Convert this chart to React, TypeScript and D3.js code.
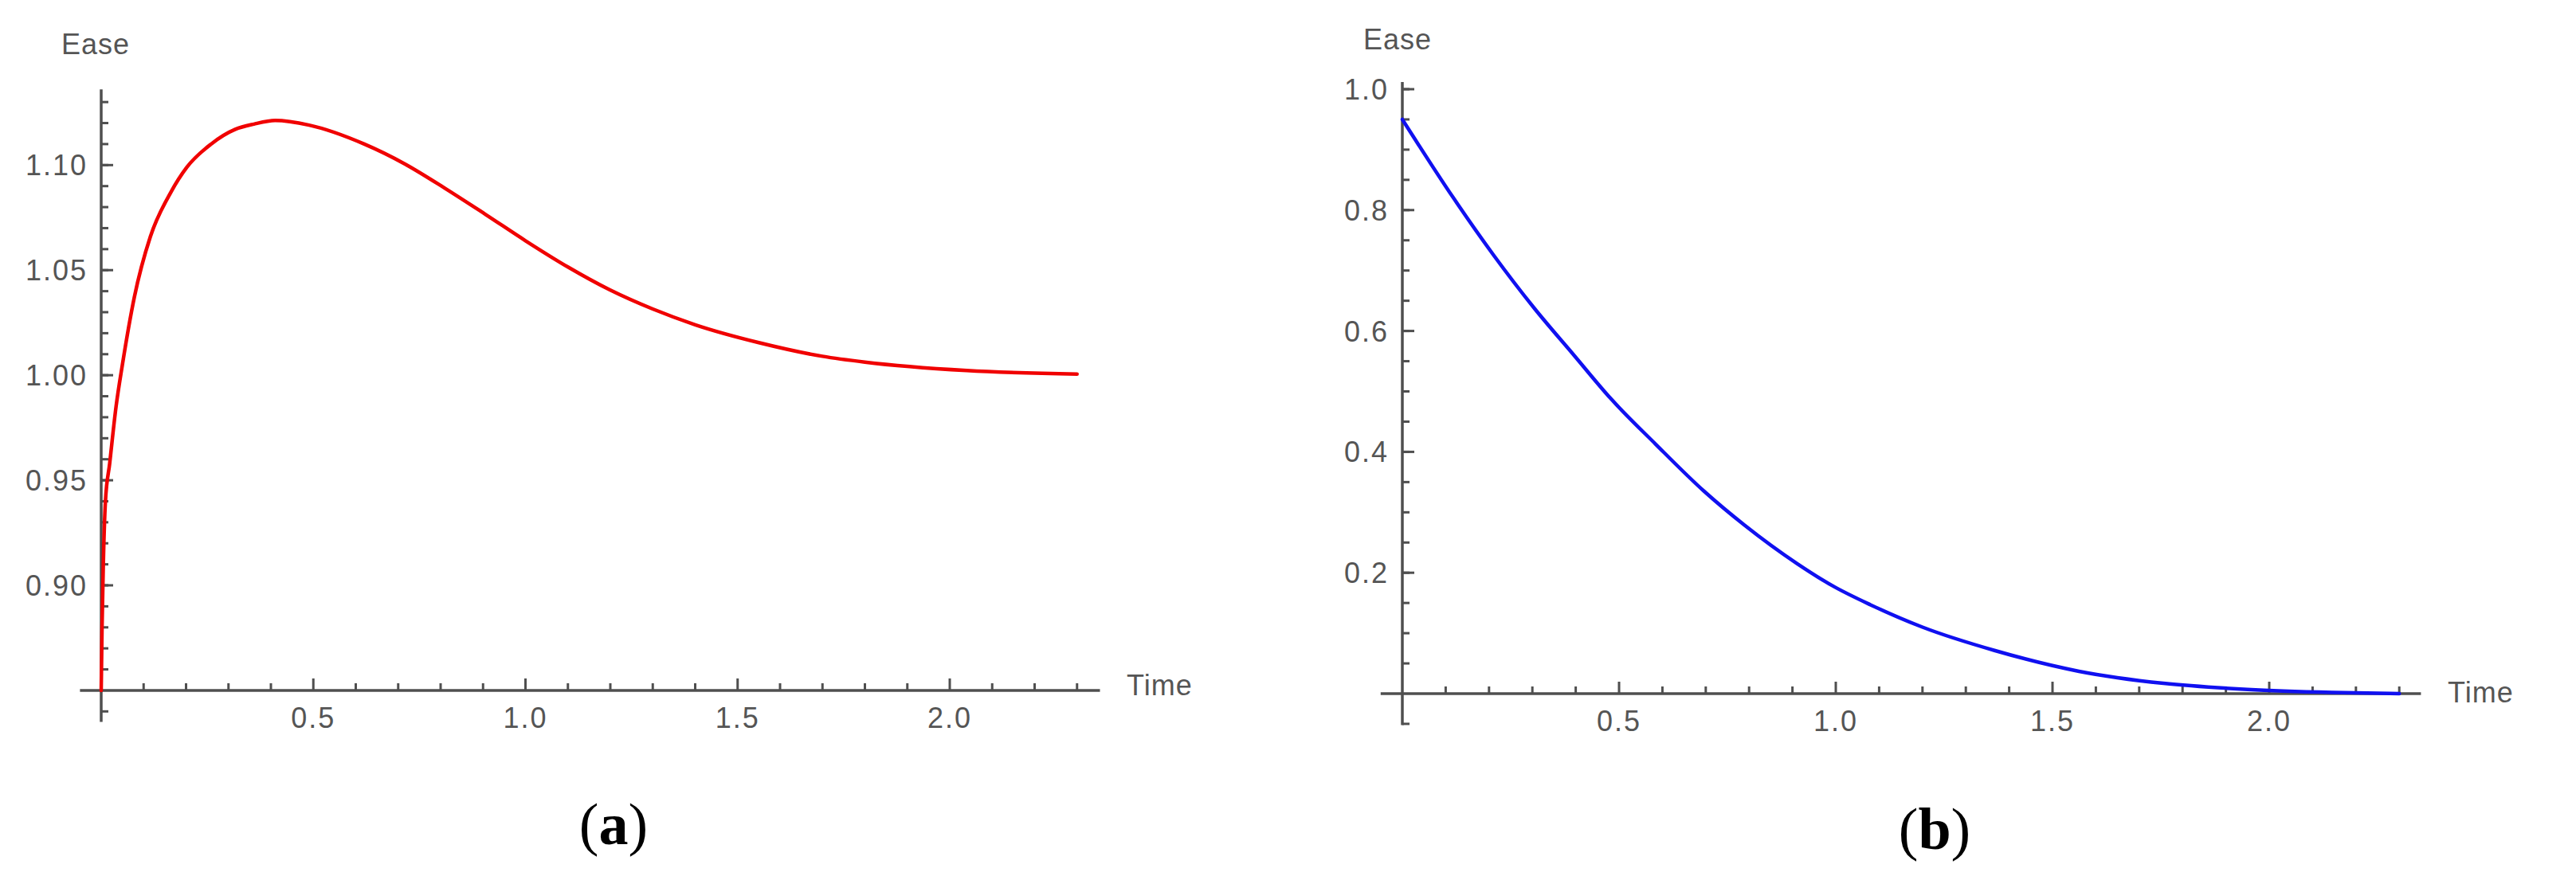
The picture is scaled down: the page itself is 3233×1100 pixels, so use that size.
import React from "react";
import * as d3 from "d3";

// ---- Data ----
const timeA = [0, 0.002, 0.005, 0.01, 0.02, 0.035, 0.05, 0.078, 0.116, 0.164, 0.202, 0.259, 0.316, 0.36, 0.41, 0.49, 0.62, 0.716, 0.81, 0.906, 1.0, 1.1, 1.2, 1.3, 1.4, 1.55, 1.7, 1.8, 2.04, 2.3];
const easeA = [0.85, 0.88, 0.91, 0.94, 0.958, 0.985, 1.005, 1.037, 1.066, 1.087, 1.099, 1.11, 1.117, 1.1195, 1.1212, 1.119, 1.11, 1.1005, 1.089, 1.0765, 1.064, 1.0515, 1.0405, 1.0315, 1.024, 1.0155, 1.009, 1.0062, 1.0022, 1.0005];

const timeB = [0, 0.117, 0.21, 0.304, 0.397, 0.481, 0.584, 0.696, 0.789, 0.911, 0.996, 1.08, 1.2, 1.366, 1.561, 1.756, 1.95, 2.145, 2.3];
const easeB = [0.95, 0.821, 0.726, 0.638, 0.559, 0.488, 0.413, 0.335, 0.279, 0.215, 0.177, 0.147, 0.11, 0.0715, 0.037, 0.017, 0.007, 0.002, 0.0];

const xMajorTicks = [0.5, 1.0, 1.5, 2.0];
const yMajorTicksA = [0.9, 0.95, 1.0, 1.05, 1.1];
const yMajorTicksB = [0.2, 0.4, 0.6, 0.8, 1.0];

const xLabel = "Time";
const yLabel = "Ease";
const panelLetters = ["a", "b"];

const AXIS = "#4f4f4f";
const TXT = "#555555";
const FONT = "'Liberation Sans', Arial, sans-serif";

type PanelProps = {
  t: number[];
  v: number[];
  color: string;
  x: d3.ScaleLinear<number, number>;
  y: d3.ScaleLinear<number, number>;
  xDom: [number, number];
  yDom: [number, number];
  yAxisAt: number;
  xMinor: number[];
  yMinor: number[];
  yMajor: number[];
  yFmt: (d: number) => string;
  easePos: [number, number];
  timePos: [number, number];
};

function Panel(p: PanelProps) {
  const { x, y } = p;
  const x0 = x(0);
  const yAx = y(p.yAxisAt);
  const line = d3
    .line<number>()
    .x((_, i) => x(p.t[i]))
    .y((d) => y(d))
    .curve(d3.curveMonotoneX);
  return (
    <g>
      {/* x axis */}
      <line x1={x(p.xDom[0])} x2={x(p.xDom[1])} y1={yAx} y2={yAx} stroke={AXIS} strokeWidth={3.5} />
      {p.xMinor.map((d) => (
        <line key={"xm" + d} x1={x(d)} x2={x(d)} y1={yAx} y2={yAx - 9} stroke={AXIS} strokeWidth={3} />
      ))}
      {xMajorTicks.map((d) => (
        <g key={"xM" + d}>
          <line x1={x(d)} x2={x(d)} y1={yAx} y2={yAx - 15} stroke={AXIS} strokeWidth={3} />
          <text x={x(d)} y={yAx + 47} textAnchor="middle" fontSize={36} fill={TXT} fontFamily={FONT} letterSpacing={2}>
            {d.toFixed(1)}
          </text>
        </g>
      ))}
      {/* y axis */}
      <line x1={x0} x2={x0} y1={y(p.yDom[0])} y2={y(p.yDom[1])} stroke={AXIS} strokeWidth={3.5} />
      {p.yMinor.map((d) => (
        <line key={"ym" + d} x1={x0} x2={x0 + 9} y1={y(d)} y2={y(d)} stroke={AXIS} strokeWidth={3} />
      ))}
      {p.yMajor.map((d) => (
        <g key={"yM" + d}>
          <line x1={x0} x2={x0 + 15} y1={y(d)} y2={y(d)} stroke={AXIS} strokeWidth={3} />
          <text x={x0 - 17} y={y(d)} dy="0.36em" textAnchor="end" fontSize={36} fill={TXT} fontFamily={FONT} letterSpacing={2}>
            {p.yFmt(d)}
          </text>
        </g>
      ))}
      <text x={p.easePos[0]} y={p.easePos[1]} fontSize={36} fill={TXT} fontFamily={FONT} letterSpacing={1}>
        {yLabel}
      </text>
      <text x={p.timePos[0]} y={p.timePos[1]} fontSize={36} fill={TXT} fontFamily={FONT} letterSpacing={1}>
        {xLabel}
      </text>
      <path d={line(p.v) || ""} fill="none" stroke={p.color} strokeWidth={4.5} strokeLinejoin="round" strokeLinecap="round" />
    </g>
  );
}

export default function App() {
  const W = 3233;
  const H = 1100;

  const xA = d3.scaleLinear().domain([0, 2]).range([127, 1192]);
  const yA = d3.scaleLinear().domain([0.9, 1.1]).range([735, 207.3]);
  const xB = d3.scaleLinear().domain([0, 2]).range([1760, 2848]);
  const yB = d3.scaleLinear().domain([0, 1]).range([871, 112]);

  const xMinor = d3.range(1, 24).map((i) => i / 10).filter((d) => !xMajorTicks.some((m) => Math.abs(m - d) < 1e-9));
  const yMinorA = d3.range(84, 114).map((i) => i / 100).filter((d) => Math.abs(d - 0.85) > 1e-9);
  const yMinorB = d3.range(-1, 21).map((i) => i * 0.05).filter((d) => Math.abs(d) > 1e-9);

  return (
    <svg width={W} height={H} style={{ position: "absolute", left: 0, top: 0, background: "#fff" }}>
      <rect width={W} height={H} fill="#fff" />
      <Panel
        t={timeA}
        v={easeA}
        color="#f00000"
        x={xA}
        y={yA}
        xDom={[-0.05, 2.354]}
        yDom={[0.835, 1.136]}
        yAxisAt={0.85}
        xMinor={xMinor}
        yMinor={yMinorA}
        yMajor={yMajorTicksA}
        yFmt={(d) => d.toFixed(2)}
        easePos={[77, 68]}
        timePos={[1414, 873]}
      />
      <Panel
        t={timeB}
        v={easeB}
        color="#1010f0"
        x={xB}
        y={yB}
        xDom={[-0.05, 2.35]}
        yDom={[-0.052, 1.012]}
        yAxisAt={0}
        xMinor={xMinor}
        yMinor={yMinorB}
        yMajor={yMajorTicksB}
        yFmt={(d) => d.toFixed(1)}
        easePos={[1711, 62]}
        timePos={[3072, 882]}
      />
      {panelLetters.map((l, i) => (
        <text
          key={l}
          x={i === 0 ? 770 : 2428}
          y={i === 0 ? 1060 : 1066}
          textAnchor="middle"
          fontSize={74}
          fontFamily="'Liberation Serif', 'Times New Roman', serif"
          fill="#000"
        >
          (<tspan fontWeight="bold">{l}</tspan>)
        </text>
      ))}
    </svg>
  );
}
